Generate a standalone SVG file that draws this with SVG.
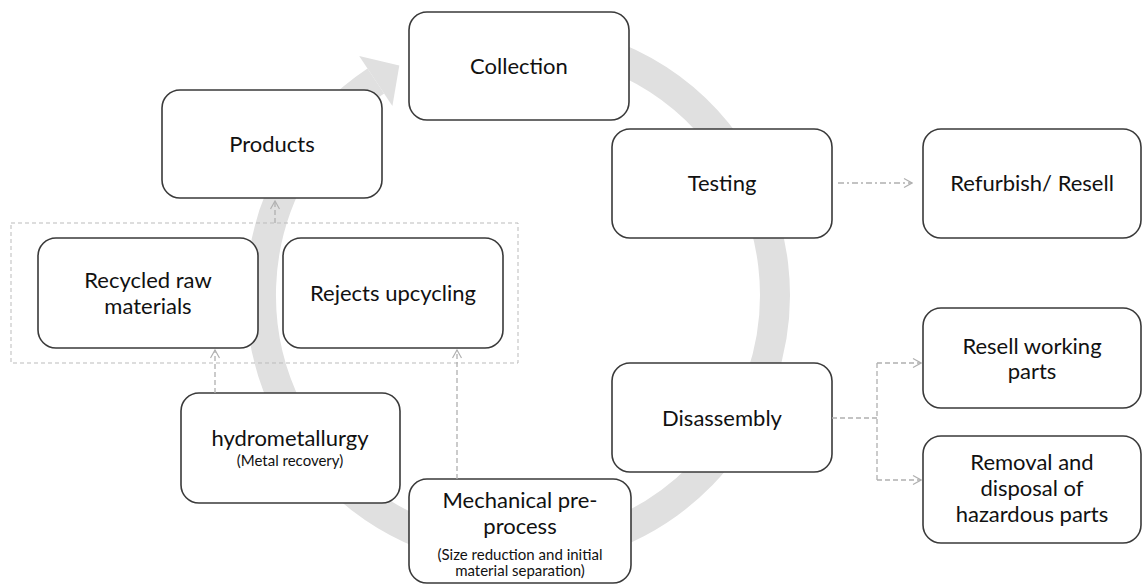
<svg xmlns="http://www.w3.org/2000/svg" width="1142" height="585" viewBox="0 0 1142 585">
<style>
.box{fill:#fff;stroke:#3a3a3a;stroke-width:1.6}
.t{font-family:Lato,"Liberation Sans",sans-serif;font-size:22px;fill:#111;text-anchor:middle}
.s{font-family:Lato,"Liberation Sans",sans-serif;font-size:15px;fill:#111;text-anchor:middle}
.c{fill:none;stroke:#b0b0b0;stroke-width:1.3;stroke-dasharray:5 3}
.cd{fill:none;stroke:#b0b0b0;stroke-width:1.3;stroke-dasharray:6 3 2 3}
</style>
<defs>
<marker id="ah" markerWidth="10" markerHeight="10" refX="9" refY="5" orient="auto" markerUnits="userSpaceOnUse">
<path d="M1,0.5 L9,5 L1,9.5" fill="none" stroke="#b0b0b0" stroke-width="1.2"/>
</marker>
</defs>
<g id="cycle">
<path d="M518,38 A257,257 0 1 1 375.8,80.9" fill="none" stroke="#e0e0e0" stroke-width="30"/>
<polygon points="359.2,56 392.4,105.9 399.3,65.4" fill="#e0e0e0"/>
</g>
<g id="group-box"><rect x="11" y="223" width="507" height="140" fill="none" stroke="#bbb" stroke-width="1" stroke-dasharray="4 3"/></g>
<g id="collection"><rect class="box" x="409" y="12" width="220" height="108" rx="18"/><text class="t" x="519" y="74">Collection</text></g>
<g id="products"><rect class="box" x="162" y="90" width="220" height="108" rx="18"/><text class="t" x="272" y="152">Products</text></g>
<g id="testing"><rect class="box" x="612" y="129" width="220" height="109" rx="18"/><text class="t" x="722" y="191">Testing</text></g>
<g id="refurbish"><rect class="box" x="923" y="129" width="218" height="109" rx="18"/><text class="t" x="1032" y="191">Refurbish/ Resell</text></g>
<g id="recycled"><rect class="box" x="38" y="238" width="220" height="110" rx="18"/><text class="t" x="148" y="288">Recycled raw</text><text class="t" x="148" y="314">materials</text></g>
<g id="rejects"><rect class="box" x="283" y="238" width="220" height="110" rx="18"/><text class="t" x="393" y="301">Rejects upcycling</text></g>
<g id="hydro"><rect class="box" x="181" y="393" width="219" height="110" rx="18"/><text class="t" x="290" y="446">hydrometallurgy</text><text class="s" x="290" y="466">(Metal recovery)</text></g>
<g id="mechanical"><rect class="box" x="409" y="479" width="222" height="104" rx="18"/><text class="t" x="520" y="508">Mechanical pre-</text><text class="t" x="520" y="534">process</text><text class="s" x="520" y="560">(Size reduction and initial</text><text class="s" x="520" y="576">material separation)</text></g>
<g id="disassembly"><rect class="box" x="612" y="363" width="220" height="109" rx="18"/><text class="t" x="722" y="426">Disassembly</text></g>
<g id="resell"><rect class="box" x="923" y="308" width="218" height="100" rx="18"/><text class="t" x="1032" y="354">Resell working</text><text class="t" x="1032" y="379">parts</text></g>
<g id="removal"><rect class="box" x="923" y="436" width="218" height="107" rx="18"/><text class="t" x="1032" y="470">Removal and</text><text class="t" x="1032" y="496">disposal of</text><text class="t" x="1032" y="522">hazardous parts</text></g>
<g id="connectors">
<path class="cd" d="M838,183 H912" marker-end="url(#ah)"/>
<path class="c" d="M832,418 H877 M877,363 V480" />
<path class="c" d="M877,363 H921" marker-end="url(#ah)"/>
<path class="c" d="M877,480 H921" marker-end="url(#ah)"/>
<path class="c" d="M275,223 V201" marker-end="url(#ah)"/>
<path class="c" d="M215,393 V350" marker-end="url(#ah)"/>
<path class="c" d="M457,479 V350" marker-end="url(#ah)"/>
</g>
</svg>
